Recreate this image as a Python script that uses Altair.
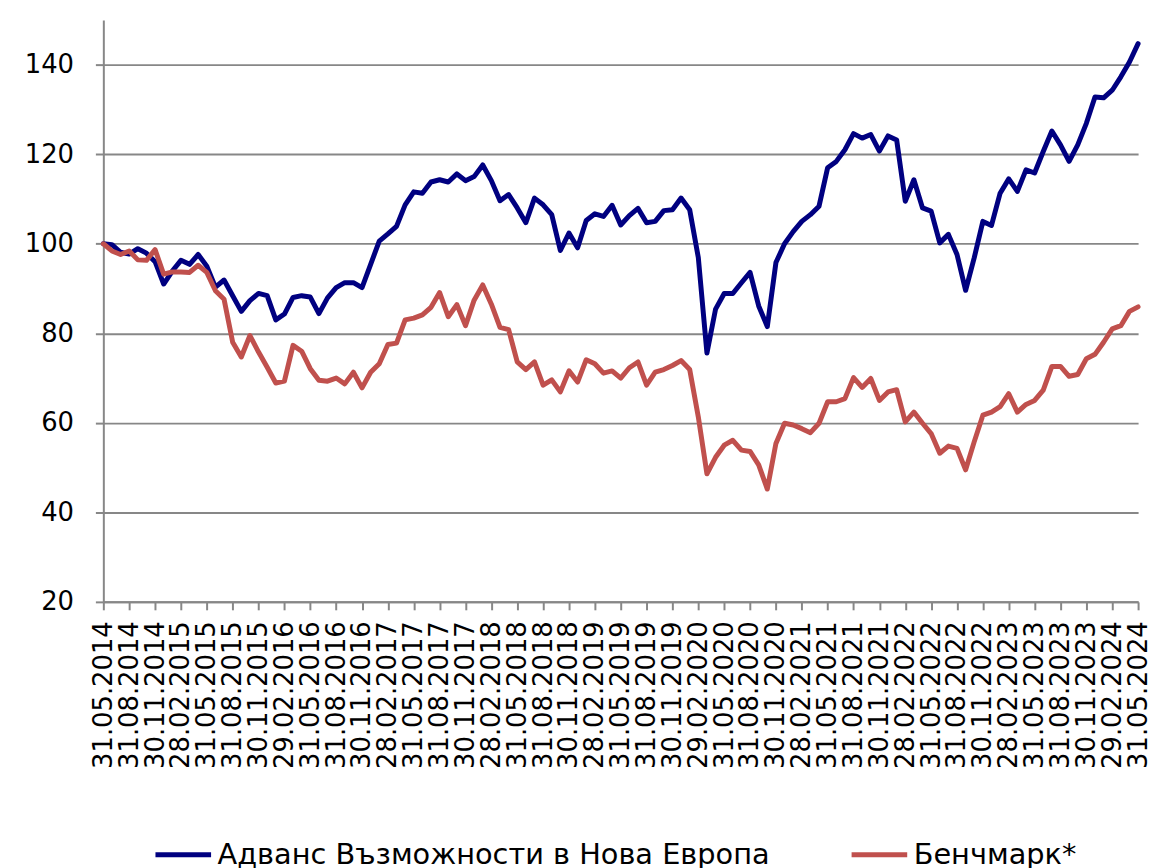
import altair as alt
import pandas as pd

# Month-end observation dates (monthly, 31.05.2014 .. 31.05.2024)
dates = [d.strftime("%d.%m.%Y") for d in pd.date_range("2014-05-31", periods=121, freq="ME")]
tick_labels = dates[::3]

series_names = ["Адванс Възможности в Нова Европа", "Бенчмарк*"]

fund = [
    100.0, 99.8, 98.1, 97.7, 98.9, 97.9, 96.0, 91.0, 93.9, 96.3,
    95.4, 97.6, 95.0, 90.3, 91.9, 88.4, 84.9, 87.3, 88.9, 88.4,
    83.0, 84.3, 88.0, 88.4, 88.1, 84.4, 87.9, 90.2, 91.3, 91.3,
    90.2, 95.4, 100.6, 102.2, 103.9, 108.7, 111.6, 111.3, 113.8, 114.3,
    113.8, 115.6, 114.1, 115.0, 117.6, 114.1, 109.6, 111.0, 108.0, 104.7,
    110.2, 108.7, 106.5, 98.5, 102.4, 99.1, 105.2, 106.7, 106.1, 108.6,
    104.2, 106.3, 107.9, 104.7, 105.0, 107.4, 107.6, 110.2, 107.6, 96.9,
    75.6, 85.4, 88.9, 88.9, 91.3, 93.6, 86.1, 81.5, 95.8, 100.0,
    102.7, 105.0, 106.5, 108.4, 117.0, 118.4, 121.0, 124.6, 123.6, 124.4,
    120.7, 124.1, 123.2, 109.5, 114.3, 108.0, 107.3, 100.2, 102.1, 97.6,
    89.6, 96.9, 105.0, 104.1, 111.3, 114.5, 111.7, 116.5, 115.8, 120.6,
    125.2, 122.1, 118.4, 122.1, 126.9, 132.8, 132.6, 134.3, 137.3, 140.6,
    144.7,
]

bench = [
    100.0, 98.4, 97.6, 98.4, 96.4, 96.3, 98.7, 93.2, 93.7, 93.7,
    93.6, 95.2, 93.6, 89.5, 87.6, 78.0, 74.7, 79.5, 75.8, 72.4,
    68.9, 69.3, 77.3, 76.0, 72.1, 69.5, 69.3, 70.0, 68.7, 71.3,
    67.8, 71.3, 73.2, 77.5, 77.8, 83.0, 83.4, 84.1, 85.8, 89.1,
    83.7, 86.4, 81.7, 87.4, 90.8, 86.5, 81.3, 80.8, 73.6, 71.9,
    73.6, 68.4, 69.6, 66.9, 71.6, 69.1, 74.1, 73.2, 71.1, 71.6,
    70.0, 72.3, 73.6, 68.4, 71.3, 71.9, 72.8, 73.9, 71.9, 61.3,
    48.6, 52.3, 55.0, 56.1, 53.9, 53.6, 50.6, 45.2, 55.4, 59.9,
    59.5, 58.7, 57.8, 59.9, 64.7, 64.7, 65.4, 70.1, 67.9, 69.9,
    65.0, 66.9, 67.4, 60.2, 62.4, 59.9, 57.6, 53.2, 54.8, 54.3,
    49.5, 55.8, 61.7, 62.4, 63.6, 66.5, 62.4, 64.1, 65.0, 67.3,
    72.6, 72.6, 70.4, 70.8, 74.3, 75.3, 78.0, 81.0, 81.7, 84.9,
    85.9,
]

y_ticks = [20, 40, 60, 80, 100, 120, 140]
colors = ["#000080", "#C0504D"]

df = pd.DataFrame({
    "date": dates * 2,
    "value": fund + bench,
    "series": [series_names[0]] * len(dates) + [series_names[1]] * len(dates),
})

FONT = "DejaVu Sans"
GRAY = "#878787"

chart = alt.Chart(df).mark_line(strokeWidth=5, strokeJoin="round", strokeCap="round").encode(
    x=alt.X(
        "date:O",
        sort=dates,
        scale=alt.Scale(type="point", padding=0),
        axis=alt.Axis(
            values=tick_labels, title=None, labelAngle=270, labelAlign="right",
            labelBaseline="middle", labelOverlap=False, labelPadding=11,
            tickSize=8, tickColor=GRAY, tickWidth=2, domainColor=GRAY, domainWidth=2,
            labelFont=FONT, labelFontSize=26, labelColor="#000000",
            grid=False, minExtent=180, maxExtent=180,
        ),
    ),
    y=alt.Y(
        "value:Q",
        scale=alt.Scale(domain=[20, 150], nice=False, zero=False),
        axis=alt.Axis(
            values=y_ticks, title=None, labelPadding=22, tickSize=8,
            tickColor=GRAY, tickWidth=2, domainColor=GRAY, domainWidth=2,
            gridColor=GRAY, gridWidth=2, labelFont=FONT, labelFontSize=26,
            labelColor="#000000", minExtent=96, maxExtent=96,
        ),
    ),
    color=alt.Color(
        "series:N",
        sort=series_names,
        scale=alt.Scale(domain=series_names, range=colors),
        legend=alt.Legend(
            title=None, orient="none", legendX=50, legendY=810,
            direction="horizontal", symbolType="stroke", symbolSize=3136,
            symbolStrokeWidth=5, labelFont=FONT, labelFontSize=29,
            labelColor="#000000", labelOffset=4, columnPadding=71,
            labelLimit=900,
        ),
    ),
).properties(
    width=1042,
    height=586,
    padding={"left": 0, "top": 9, "right": 0, "bottom": 0},
).configure_view(stroke=None)

chart.save("out.html", embed_options={"renderer": "svg", "actions": False})
